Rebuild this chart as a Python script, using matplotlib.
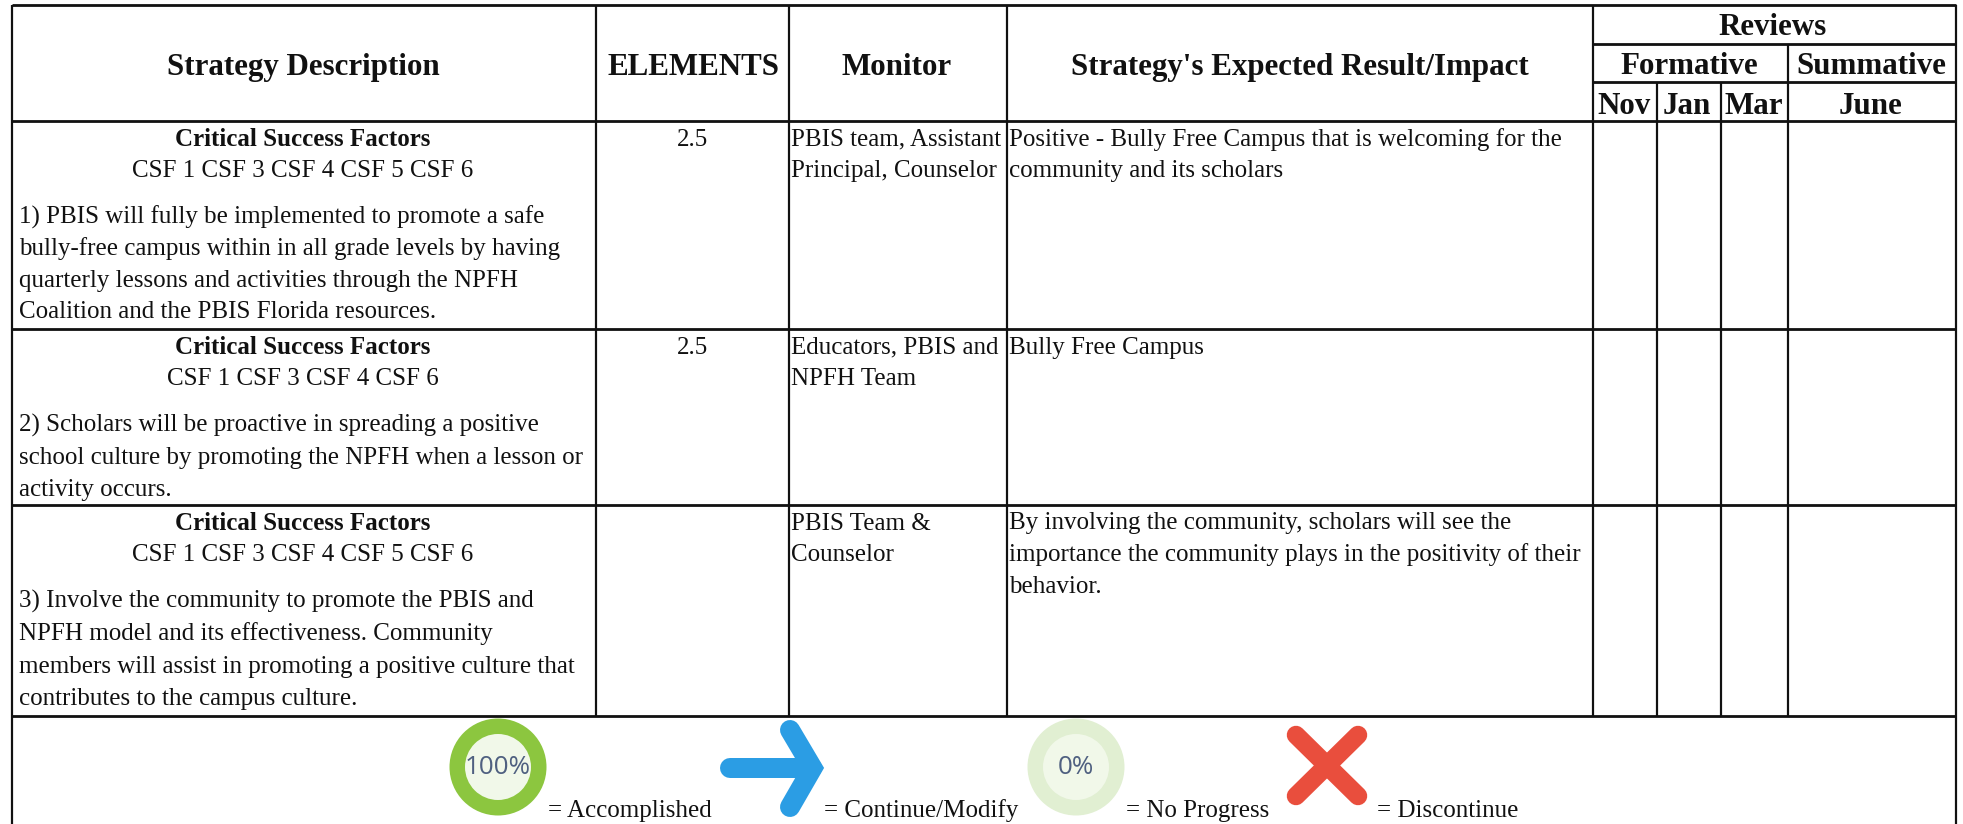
import matplotlib
matplotlib.use('Agg')
import matplotlib.pyplot as plt
from matplotlib.patches import Circle

plt.rcParams['font.family'] = ['Liberation Serif', 'DejaVu Serif']

W, H = 1963, 824
PX = 72 / 100  # pixels to points at dpi 100

# Table content
headers = ['Strategy Description', 'ELEMENTS', 'Monitor', "Strategy's Expected Result/Impact"]
review_title = 'Reviews'
review_groups = ['Formative', 'Summative']
review_months = ['Nov', 'Jan', 'Mar', 'June']
csf_title = 'Critical Success Factors'
csf_lists = ['CSF 1 CSF 3 CSF 4 CSF 5 CSF 6',
             'CSF 1 CSF 3 CSF 4 CSF 6',
             'CSF 1 CSF 3 CSF 4 CSF 5 CSF 6']
strategies = [
    ['1) PBIS will fully be implemented to promote a safe',
     'bully-free campus within in all grade levels by having',
     'quarterly lessons and activities through the NPFH',
     'Coalition and the PBIS Florida resources.'],
    ['2) Scholars will be proactive in spreading a positive',
     'school culture by promoting the NPFH when a lesson or',
     'activity occurs.'],
    ['3) Involve the community to promote the PBIS and',
     'NPFH model and its effectiveness. Community',
     'members will assist in promoting a positive culture that',
     'contributes to the campus culture.'],
]
elements = ['2.5', '2.5', '']
monitors = [['PBIS team, Assistant', 'Principal, Counselor'],
            ['Educators, PBIS and', 'NPFH Team'],
            ['PBIS Team &', 'Counselor']]
impacts = [['Positive - Bully Free Campus that is welcoming for the', 'community and its scholars'],
           ['Bully Free Campus'],
           ['By involving the community, scholars will see the',
            'importance the community plays in the positivity of their',
            'behavior.']]
legend_labels = ['= Accomplished', '= Continue/Modify', '= No Progress', '= Discontinue']

# Grid lines in image pixels
col_x = [11.5, 596, 789, 1007, 1593, 1657, 1720.5, 1787.5, 1956]
row_y = [5, 121, 329, 505, 716]
para_step = [31.6, 32, 32.6]
LINE = '#111111'

fig = plt.figure(figsize=(W / 100, H / 100), dpi=100, facecolor='white')
ax = fig.add_axes([0, 0, 1, 1])
ax.set_xlim(0, W)
ax.set_ylim(H, 0)
ax.axis('off')


def hline(y, x0, x1, lw=2.8):
    ax.plot([x0, x1], [y, y], color=LINE, lw=lw * PX, solid_capstyle='butt')


def vline(x, y0, y1, lw=2.2):
    ax.plot([x, x], [y0, y1], color=LINE, lw=lw * PX, solid_capstyle='butt')


def put(x, y, s, ha='left', bold=False, size=25):
    ax.text(x, y, s, ha=ha, va='baseline', fontsize=size * PX,
            fontweight='bold' if bold else 'normal', color='#111111')


# Grid
for y in row_y:
    hline(y, col_x[0], col_x[-1])
for x in col_x[:5] + col_x[-1:]:
    vline(x, row_y[0], row_y[-1])
vline(col_x[0], row_y[-1], H)
vline(col_x[-1], row_y[-1], H)
hline(43.5, col_x[4], col_x[-1])
hline(82, col_x[4], col_x[-1])
vline(col_x[7], 43.5, row_y[-1])
vline(col_x[5], 82, row_y[-1])
vline(col_x[6], 82, row_y[-1])

# Header
HEAD = 31
for s, cx in zip(headers, [303, 693, 897, 1299.5]):
    put(cx, 75, s, ha='center', bold=True, size=HEAD)
put(1773, 35, review_title, ha='center', bold=True, size=HEAD)
for s, cx in zip(review_groups, [1689, 1871]):
    put(cx, 74, s, ha='center', bold=True, size=HEAD)
for s, cx in zip(review_months, [1623.5, 1687, 1754, 1871]):
    put(cx, 114, s, ha='center', bold=True, size=HEAD)

# Body rows
STEP = 31.7
for i, top in enumerate(row_y[1:4]):
    put(303, top + 24.5, csf_title, ha='center', bold=True)
    put(303, top + 56, csf_lists[i], ha='center')
    for j, s in enumerate(strategies[i]):
        put(19, top + 102.5 + j * para_step[i], s)
    put(693, top + 24.5, elements[i], ha='center')
    for j, s in enumerate(monitors[i]):
        put(791, top + 24.5 + j * STEP, s)
    for j, s in enumerate(impacts[i]):
        put(1009, top + 24.5 + j * STEP, s)


# Legend
def ring(cx, cy, outer, inner, label):
    ax.add_patch(Circle((cx, cy), 48.5, color=outer, lw=0))
    ax.add_patch(Circle((cx, cy), 33, color=inner, lw=0))
    ax.text(cx, cy, label, ha='center', va='center', fontsize=26 * PX,
            family='Open Sans', color='#4f6080')


ring(498, 767, '#8cc63f', '#f1f8e9', '100%')
ring(1076, 767, '#e1efd2', '#f1f8e9', '0%')

# arrow and cross are pictograms, built from rounded strokes
BLUE = '#2b9de4'
ax.plot([730, 812], [768, 768], color=BLUE, lw=20 * PX, solid_capstyle='round')
ax.plot([790, 812.5, 790], [730, 768, 807], color=BLUE, lw=20 * PX,
        solid_capstyle='round', solid_joinstyle='miter')
RED = '#e94e3d'
ax.plot([1296, 1358], [735, 796], color=RED, lw=18.5 * PX, solid_capstyle='round')
ax.plot([1296, 1358], [796, 735], color=RED, lw=18.5 * PX, solid_capstyle='round')

for s, x in zip(legend_labels, [548, 824, 1125.5, 1377]):
    put(x, 817, s)

fig.savefig('out.png', dpi=100, facecolor='white')
